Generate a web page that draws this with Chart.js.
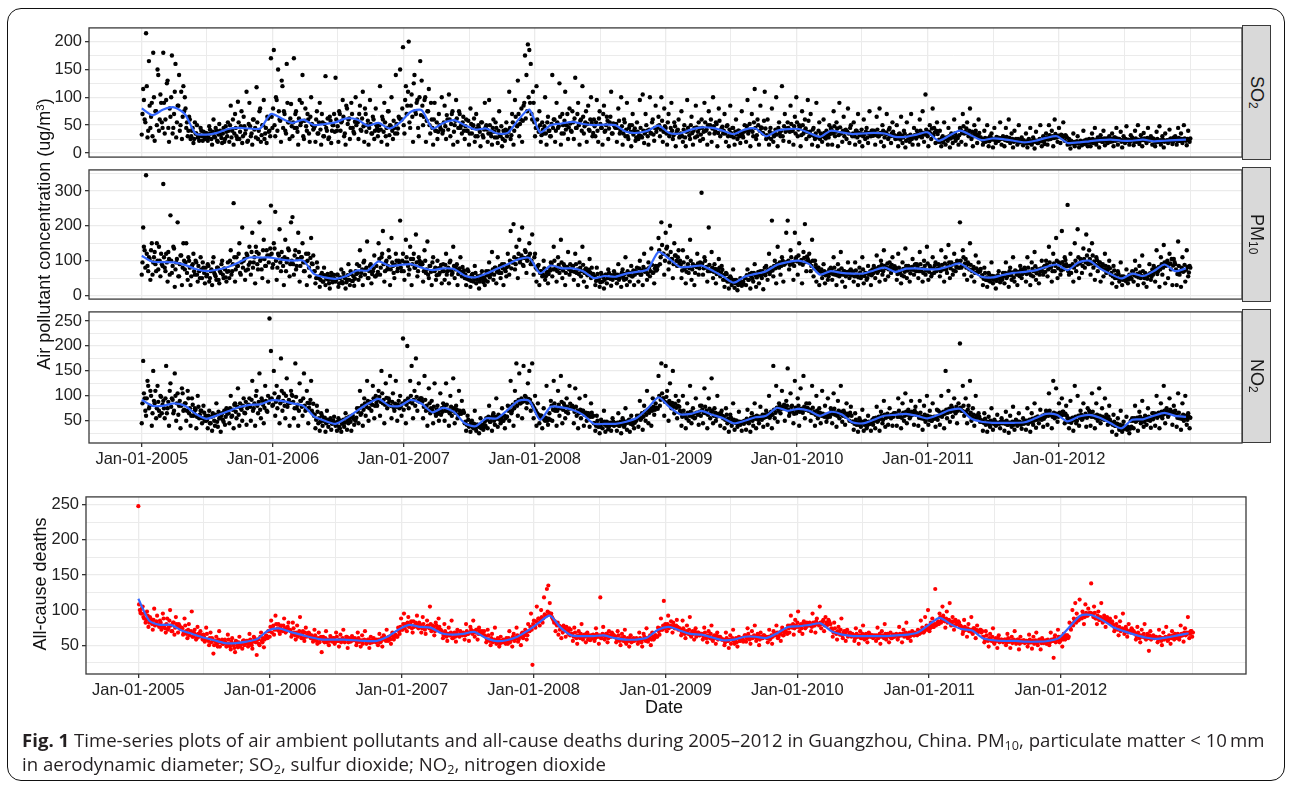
<!DOCTYPE html>
<html><head><meta charset="utf-8">
<script src="https://cdn.jsdelivr.net/npm/chart.js@4.4.0/dist/chart.umd.min.js"></script>
<style>
html,body{margin:0;padding:0;background:#fff;}
body{width:1289px;height:785px;position:relative;overflow:hidden;font-family:Arial,"Liberation Sans",sans-serif;}
.frame{position:absolute;left:7px;top:8px;width:1276px;height:771px;border:1.6px solid #111;border-radius:14px;}
canvas{position:absolute;left:0;}
.strip{position:absolute;left:1242px;width:29px;background:#d9d9d9;border:1.2px solid #3a3a3a;box-sizing:border-box;display:flex;align-items:center;justify-content:center;}
.strip span{writing-mode:vertical-rl;font-size:18px;color:#1a1a1a;line-height:1;}
.strip sub{font-size:12px;}
.ytitle{position:absolute;width:400px;height:22px;line-height:22px;text-align:center;font-size:18px;color:#111;transform:rotate(-90deg);}
.ytitle sup{font-size:11.5px;vertical-align:6px;}
.xtitle{position:absolute;font-size:18px;color:#111;}
.cap{position:absolute;left:22px;white-space:nowrap;font-family:"Open Sans","Noto Sans",sans-serif;color:#231f20;font-size:16px;line-height:23px;}
.cap sub{font-size:0.68em;vertical-align:-0.2em;line-height:0;}
</style></head>
<body>
<div class="frame"></div>
<canvas id="cSO2" width="1252" height="155" style="top:15px"></canvas>
<canvas id="cPM" width="1252" height="155" style="top:157px"></canvas>
<canvas id="cNO2" width="1252" height="180" style="top:299px"></canvas>
<canvas id="cDeath" width="1256" height="230" style="top:484px"></canvas>
<div class="strip" style="top:25px;height:135px"><span>SO<sub>2</sub></span></div>
<div class="strip" style="top:167px;height:135px"><span>PM<sub>10</sub></span></div>
<div class="strip" style="top:309px;height:134px"><span>NO<sub>2</sub></span></div>
<div class="ytitle" style="left:-160px;top:223px">Air pollutant concentration (ug/m<sup>3</sup>)</div>
<div class="ytitle" style="left:-160px;top:573px">All-cause deaths</div>
<div class="xtitle" style="top:697px;left:645px">Date</div>
<div class="cap" id="cap1" style="top:728px"><b>Fig. 1</b> Time-series plots of air ambient pollutants and all-cause deaths during 2005–2012 in Guangzhou, China. PM<sub>10</sub>, particulate matter &lt; 10&#8201;mm</div>
<div class="cap" id="cap2" style="top:752px">in aerodynamic diameter; SO<sub>2</sub>, sulfur dioxide; NO<sub>2</sub>, nitrogen dioxide</div>
<script>
// ---- Sampling: two interleaved sets of daily readings, every 4th day (set B offset by 2 days),
//      15 samples per 60-day block; smooth trend sampled every 30 days ----
const sampleStepDays = 4, blockDays = 60, perBlock = 15, setBOffsetDays = 2;
const trendStepDays = 30;

const so2Values = [
33,115,60,215,28,165,45,90,180,22,75,150,40,105,55,
180,35,95,130,20,65,175,45,110,28,85,140,50,25,120,
100,45,30,65,25,40,18,55,35,28,22,45,30,38,25,
30,22,48,35,15,60,28,40,20,52,33,18,45,25,38,
55,20,85,40,15,70,30,92,25,48,18,65,35,110,22,
90,30,15,60,45,118,25,75,20,50,95,35,18,62,40,
170,45,185,30,95,150,60,20,120,75,40,160,55,25,88,
30,170,70,45,15,95,55,140,25,80,40,60,20,100,50,
45,20,75,35,90,15,55,30,138,40,25,65,18,50,70,
135,40,20,70,55,95,30,15,80,60,25,90,45,35,100,
60,25,85,40,110,20,70,50,15,95,35,65,25,80,45,
40,120,20,60,90,30,15,75,50,100,25,45,140,35,65,
150,60,190,35,120,85,200,45,105,20,140,70,95,30,165,
130,50,95,20,75,115,35,60,15,90,40,25,70,45,100,
40,85,25,60,105,30,70,15,50,95,20,75,45,35,65,
25,60,40,15,80,35,50,20,70,30,45,12,55,28,90,
50,20,95,35,15,60,28,45,18,75,30,12,40,22,55,
40,110,25,70,15,95,50,130,30,60,20,85,175,140,195,
185,160,60,90,30,120,45,75,20,55,35,100,15,65,40,
30,140,60,20,90,45,125,15,70,35,110,50,25,80,40,
75,25,135,45,90,15,60,120,35,55,20,85,40,100,30,
60,30,95,20,75,45,15,85,40,65,25,55,110,35,50,
45,20,80,35,100,15,60,30,90,25,50,12,70,40,22,
55,25,95,30,105,18,70,40,15,100,35,60,22,85,45,
65,30,100,20,80,45,15,70,35,90,25,55,12,40,60,
30,75,20,50,12,95,40,25,65,15,45,85,30,55,22,
60,25,90,40,15,75,50,20,100,35,55,12,80,30,45,
35,70,20,50,12,85,30,45,15,60,25,40,18,75,28,
50,20,95,40,12,70,30,115,25,60,15,85,45,35,110,
25,60,15,45,80,20,35,100,12,55,30,120,22,70,40,
55,20,85,40,15,65,100,30,50,12,75,35,60,25,95,
30,70,15,45,25,90,12,55,35,20,60,28,40,15,50,
45,15,75,30,55,12,90,35,20,65,40,25,80,18,50,
30,55,15,40,70,20,35,12,60,25,45,18,75,30,40,
40,15,65,30,80,20,50,12,35,70,25,45,18,55,30,
25,50,12,35,65,18,40,10,55,28,20,70,15,45,30,
40,15,60,30,75,20,105,35,12,50,25,80,45,18,55,
20,40,12,30,55,15,25,45,10,35,18,60,22,28,15,
45,20,70,35,15,55,30,80,25,12,50,40,18,60,28,
25,15,40,20,50,12,30,35,10,45,18,28,22,55,15,
30,12,45,22,60,18,35,10,40,25,15,50,20,28,14,
20,35,10,25,45,15,28,8,38,18,22,50,12,30,16,
35,15,50,25,40,12,60,28,20,45,18,32,55,22,30,
15,25,8,20,35,12,18,30,10,22,14,40,16,24,12,
25,12,35,18,45,15,28,10,32,20,40,14,26,18,30,
20,35,12,28,45,15,25,38,10,30,18,48,22,15,32,
28,14,40,20,50,16,32,12,36,24,18,45,22,30,15,
25,12,38,20,48,15,30,10,35,22,18,42,26,16,28,
30,15,45,22,35,18,50,25,14,40,20
];
const so2ValuesB = [
70,95,55,120,40,85,65,30,100,75,50,140,60,90,45,
90,60,125,45,80,100,35,70,160,55,85,40,110,65,75,
80,55,40,60,30,45,25,35,50,28,32,40,22,30,36,
35,28,42,25,38,30,45,22,33,40,27,35,20,48,30,
40,50,28,60,35,45,25,55,38,75,30,48,42,20,52,
48,35,60,42,28,55,40,80,32,50,25,45,65,38,30,
65,80,50,100,40,75,58,130,45,70,35,90,55,62,48,
55,45,75,38,62,50,90,30,58,48,70,35,65,52,42,
48,60,35,55,42,70,30,52,45,62,28,58,40,50,38,
60,48,75,40,58,65,35,85,52,62,45,70,38,56,50,
55,70,42,62,48,80,38,58,45,52,35,60,40,50,30,
50,42,65,38,55,45,75,32,48,40,58,35,52,44,62,
60,80,50,95,70,110,55,85,65,125,75,90,45,100,68,
85,65,100,58,75,50,90,45,60,40,55,38,50,42,35,
55,48,68,42,60,52,75,38,58,62,45,70,50,55,40,
48,40,58,35,52,45,62,30,44,50,38,55,32,42,46,
42,35,50,30,45,38,55,28,40,33,48,25,36,42,30,
38,45,32,55,40,65,48,70,52,80,58,90,62,75,100,
90,70,110,55,45,60,38,50,32,42,48,35,55,40,30,
52,45,60,40,55,48,65,35,50,58,42,70,46,53,38,
55,62,45,70,50,58,40,65,48,75,52,42,60,54,36,
48,55,40,62,52,45,70,38,50,58,44,65,35,53,47,
52,45,58,40,48,35,55,42,30,45,38,50,33,44,28,
38,32,45,28,40,35,50,30,42,36,55,33,45,38,48,
50,42,58,38,48,35,55,30,45,40,32,48,36,42,28,
35,30,42,28,38,45,32,50,36,40,28,46,38,44,33,
45,38,55,42,50,35,60,44,48,40,52,36,58,42,47,
40,35,48,30,42,36,45,28,38,33,40,30,36,32,38,
40,48,35,52,42,38,55,45,32,50,40,46,36,58,44,
32,28,38,25,35,30,42,33,45,36,40,30,48,38,44,
45,38,52,40,48,35,55,42,46,32,50,40,44,38,58,
38,32,42,30,35,28,40,25,33,30,36,26,32,28,34,
42,35,48,38,44,32,46,36,40,30,42,38,35,45,33,
35,30,40,28,36,32,42,30,34,38,28,36,33,40,31,
38,32,42,30,36,34,40,28,37,33,42,30,35,38,32,
30,26,34,24,31,28,35,22,30,27,33,25,29,32,26,
34,30,40,28,36,33,42,30,38,35,44,32,37,40,34,
24,20,27,19,25,28,22,30,26,33,28,35,30,27,32,
42,36,48,38,44,35,40,32,38,30,35,33,30,36,28,
24,20,27,22,26,21,28,24,25,23,29,22,27,25,26,
26,23,29,22,27,24,25,20,23,22,25,19,24,21,23,
20,17,23,18,21,19,24,20,22,18,25,21,23,20,24,
28,24,32,26,30,27,34,28,31,29,33,27,30,32,28,
19,16,22,17,20,18,21,17,19,20,16,22,18,21,19,
22,19,25,20,23,21,24,22,25,20,26,22,24,21,23,
25,21,28,22,26,23,24,20,23,21,25,22,24,20,23,
23,20,26,21,24,22,25,23,26,22,27,24,25,23,26,
22,19,25,20,23,21,24,20,22,23,21,25,22,20,24,
24,21,27,22,25,23,26,22,25,23,26
];
const so2Trend = [
80,68,78,82,70,35,33,36,43,45,44,44,70,62,54,60,50,52,55,62,
60,49,54,44,55,74,77,44,54,59,50,42,44,35,36,60,78,37,50,53,
56,52,50,51,50,38,36,40,49,36,35,42,46,45,40,34,42,44,30,40,
43,43,36,29,40,37,34,35,36,35,29,29,33,37,22,31,40,32,23,26,
25,22,19,22,27,30,18,19,21,23,24,22,22,24,21,22,23,24
];

const pm10Values = [
60,195,130,345,85,110,45,150,95,125,70,100,140,55,90,
320,80,120,40,105,230,65,140,25,95,210,55,115,30,150,
75,150,45,100,30,85,120,60,95,40,70,110,50,80,35,
55,90,40,70,30,110,60,45,80,35,65,100,50,75,40,
95,50,130,70,265,40,110,85,150,60,195,100,45,120,75,
140,60,180,95,35,125,75,210,105,50,160,85,130,40,115,
258,80,150,240,45,120,190,70,105,30,160,95,135,55,210,
225,60,130,85,180,40,110,150,70,95,30,120,55,165,90,
70,35,95,50,25,60,40,80,30,55,45,20,65,38,50,
40,60,25,50,75,35,55,20,45,90,30,62,42,28,70,
90,45,130,65,30,100,75,155,50,85,35,70,115,55,60,
150,60,110,185,40,95,75,130,30,165,85,50,120,70,100,
215,70,120,45,160,95,60,140,30,105,80,175,55,110,90,
95,40,130,65,155,50,85,30,110,70,45,100,60,80,35,
90,45,120,70,35,100,60,140,50,85,30,75,110,55,65,
50,30,75,45,25,60,40,85,35,55,20,48,70,38,30,
70,40,95,60,125,45,80,35,110,65,50,90,30,75,55,
120,60,185,95,205,75,140,50,160,105,195,85,130,65,110,
150,90,175,60,120,40,85,30,70,55,100,45,65,35,80,
95,55,140,75,40,110,65,160,50,90,30,80,125,60,70,
85,45,120,65,30,95,55,140,40,75,25,70,105,50,60,
55,30,80,45,25,65,40,20,60,35,75,50,28,45,70,
60,35,90,50,25,75,45,110,30,65,40,85,55,30,70,
80,40,100,60,30,120,70,45,95,55,135,65,35,85,75,
165,90,210,120,60,180,140,75,200,105,50,150,115,85,130,
100,50,130,75,35,110,65,160,45,90,30,85,120,60,95,
295,60,110,80,40,195,70,125,50,90,35,75,105,55,85,
45,25,65,40,20,55,30,75,22,45,15,35,50,28,40,
50,30,75,45,20,65,40,90,25,60,35,70,50,18,80,
85,45,120,70,215,55,100,35,140,80,60,110,40,95,180,
215,75,130,90,45,180,110,60,150,95,35,125,205,70,105,
120,70,160,55,100,40,80,30,65,50,90,35,60,45,75,
80,45,110,60,30,90,55,125,40,70,25,65,95,50,75,
70,40,95,55,30,80,50,110,35,65,45,85,60,30,75,
85,50,115,70,40,100,60,130,45,80,55,95,65,110,75,
80,45,120,65,35,95,55,135,50,85,40,75,105,60,90,
90,50,125,70,40,100,60,140,45,85,55,110,65,95,75,
90,55,130,75,40,110,65,145,50,95,60,120,70,100,80,
210,80,130,60,105,45,90,150,55,75,40,115,65,95,70,
55,30,80,45,25,65,40,95,35,55,20,50,70,38,45,
65,35,95,55,25,80,45,110,40,70,30,60,85,50,75,
80,40,110,65,30,95,55,125,45,75,35,70,100,60,85,
100,55,140,80,40,120,70,165,50,95,60,185,75,110,90,
260,60,120,85,40,150,70,190,50,105,65,135,80,175,95,
130,60,150,80,45,110,70,95,40,85,55,120,65,75,100,
60,35,85,50,25,70,40,95,30,55,45,75,35,60,50,
70,40,100,55,30,85,50,115,35,65,25,60,90,45,75,
85,40,130,70,25,110,60,145,35,95,50,120,75,30,105,
90,30,155,60,25,110,70,40,130,55,85
];
const pm10ValuesB = [
95,140,80,120,70,105,130,60,110,90,150,75,100,120,85,
110,70,95,125,60,100,85,135,75,105,55,90,115,80,100,
95,65,110,80,55,90,70,100,60,85,50,75,95,65,80,
60,85,50,75,95,65,55,80,45,70,90,60,78,52,68,
70,100,60,90,110,75,85,120,65,95,80,105,72,115,88,
95,125,80,110,140,90,120,100,75,130,105,85,115,95,135,
120,90,135,100,80,115,95,125,85,110,70,105,130,90,100,
90,115,75,105,125,85,110,95,70,120,100,80,108,92,115,
70,50,80,55,45,65,40,58,48,62,35,55,45,60,42,
45,60,35,52,40,65,50,38,58,45,70,42,55,48,62,
65,85,55,75,95,60,80,50,70,90,62,78,55,85,68,
105,80,120,90,70,100,85,110,75,95,65,88,100,78,92,
80,100,70,95,110,85,75,105,90,120,80,95,70,100,88,
90,70,100,75,60,85,68,95,72,80,58,78,65,88,70,
70,88,60,80,95,72,65,85,75,90,62,78,68,82,72,
60,48,70,52,42,62,50,65,45,55,40,58,48,52,44,
58,70,52,66,75,60,80,68,72,85,65,78,90,70,82,
85,100,78,95,110,90,105,120,95,115,88,108,125,100,112,
120,100,90,110,80,75,88,65,70,60,78,55,68,62,72,
92,75,100,80,70,88,78,95,72,85,65,82,76,90,70,
85,68,90,75,62,80,70,88,65,78,58,74,66,80,62,
55,42,62,48,38,58,52,45,60,50,65,48,58,52,62,
50,60,45,58,66,52,62,48,70,58,65,55,72,60,68,
65,78,60,72,82,68,75,62,80,70,88,66,78,72,85,
130,110,145,120,100,135,115,95,125,105,90,115,100,110,95,
88,72,95,80,68,90,78,100,75,85,65,82,92,78,88,
92,78,100,82,70,88,75,80,68,76,62,72,80,66,74,
58,45,62,48,40,50,38,45,35,42,30,40,34,38,32,
50,58,45,62,55,48,65,58,52,68,60,56,70,62,58,
68,75,62,80,72,85,78,90,82,95,85,100,88,92,96,
100,88,110,95,85,105,98,115,92,102,88,108,96,112,100,
95,85,100,78,88,72,80,68,75,62,70,58,66,55,64,
75,62,80,68,58,72,64,78,60,70,55,68,62,72,58,
68,55,72,60,52,66,58,75,56,65,50,62,70,58,64,
70,78,65,82,74,88,70,85,78,92,75,82,88,76,84,
72,62,80,70,58,76,68,85,72,78,64,82,74,88,70,
82,70,90,76,65,85,72,92,68,80,62,78,86,70,76,
80,70,88,76,92,74,85,95,78,88,72,90,82,98,80,
100,85,110,92,80,95,75,88,70,82,65,78,72,68,76,
58,48,65,52,44,60,50,56,45,54,42,58,48,52,46,
55,65,50,62,70,58,66,52,72,60,68,56,74,62,66,
72,62,80,68,58,76,70,84,64,75,60,78,70,82,68,
88,75,95,82,70,92,85,100,78,90,72,96,86,102,84,
70,85,65,90,80,100,88,110,92,98,85,105,95,115,90,
105,92,115,98,88,102,85,95,80,90,75,85,72,82,78,
65,55,72,58,50,62,48,55,45,52,42,50,46,54,48,
68,58,75,62,52,66,56,70,50,60,48,58,64,54,60,
68,78,62,82,75,90,80,95,85,100,88,92,105,86,96,
75,62,85,70,80,68,88,74,82,66,80
];
const pm10Trend = [
114,97,96,95,88,76,70,74,82,95,109,109,109,103,100,100,62,52,48,56,
72,72,98,85,88,90,80,73,78,76,57,52,63,77,90,104,108,64,86,78,
78,70,50,56,54,63,68,75,125,105,82,83,86,72,55,37,54,62,70,88,
96,100,90,60,70,65,63,63,72,80,68,77,78,75,76,84,92,72,54,52,
59,65,68,72,82,89,73,95,100,78,62,49,63,56,70,89,70,78
];

const no2Values = [
45,170,95,60,130,75,110,40,150,85,55,120,70,100,65,
90,55,160,75,40,125,95,65,145,50,105,80,35,115,70,
85,50,110,65,40,95,60,75,35,100,55,70,45,80,50,
50,35,70,45,30,60,40,85,38,55,28,65,48,42,75,
70,45,100,60,35,85,55,115,40,75,50,95,65,42,80,
95,50,130,75,40,110,65,145,55,90,45,120,70,100,255,
190,80,150,60,120,95,45,175,70,105,55,135,85,40,110,
100,55,165,75,40,125,90,60,145,70,110,45,85,130,65,
60,35,80,45,30,65,40,55,28,70,38,50,32,45,58,
40,30,55,35,28,48,38,65,32,45,55,30,60,42,50,
75,45,110,65,40,95,60,130,50,85,70,120,55,100,80,
110,60,150,85,45,125,75,95,140,55,105,70,130,50,90,
100,60,215,85,45,200,75,130,160,55,110,175,70,125,95,
95,55,140,70,40,115,65,90,45,125,60,80,50,105,75,
85,50,125,70,40,100,60,135,45,80,55,110,65,90,70,
45,30,60,38,28,50,35,70,30,42,25,55,36,32,48,
55,35,80,48,30,65,42,95,38,60,45,75,50,35,58,
80,50,130,70,40,110,165,60,145,85,55,160,100,75,125,
150,70,165,55,100,40,85,45,60,35,75,50,120,42,65,
90,50,130,70,40,110,60,140,45,85,55,95,65,120,75,
80,45,115,60,35,95,55,70,40,100,50,65,38,85,58,
45,30,60,38,25,52,35,70,28,48,33,42,30,55,40,
45,30,65,40,25,55,38,75,32,50,28,60,42,35,52,
60,38,90,55,32,80,50,110,45,70,40,95,62,85,75,
140,80,165,95,60,160,110,50,125,75,150,65,100,55,90,
70,40,100,60,35,85,50,120,45,75,55,95,65,42,80,
80,45,115,65,35,95,55,135,45,75,50,100,60,40,70,
55,35,75,45,28,62,40,85,32,50,38,68,42,30,48,
50,32,72,45,28,65,40,85,35,58,45,78,52,38,62,
70,42,100,60,35,160,55,120,48,85,65,110,75,50,90,
155,60,105,80,45,130,65,95,40,115,70,140,55,85,75,
85,50,120,65,40,100,55,75,45,110,60,80,48,95,62,
75,45,105,62,38,90,55,120,48,70,42,85,60,50,78,
48,32,65,42,28,55,38,72,30,50,35,60,44,30,52,
55,35,78,50,30,68,45,90,38,62,42,75,55,40,65,
65,40,95,58,35,85,50,105,45,72,55,90,62,42,78,
65,40,90,55,32,80,48,100,42,70,50,85,58,38,72,
70,42,100,62,35,150,55,110,48,80,58,95,65,45,85,
205,70,120,60,95,45,80,130,50,75,40,100,58,65,48,
48,30,65,42,28,58,38,75,32,52,40,62,45,35,55,
48,30,68,42,26,60,38,78,32,52,40,65,45,34,55,
50,32,75,48,28,65,42,85,36,58,45,72,52,38,62,
70,42,105,62,35,130,55,115,48,85,60,95,68,45,80,
55,35,90,50,30,120,45,100,40,70,52,85,60,38,75,
70,40,105,58,35,85,50,115,45,75,55,95,62,42,80,
45,28,62,40,22,55,32,70,28,48,35,58,38,25,50,
55,35,80,50,30,68,45,90,38,60,42,75,52,36,65,
65,40,100,60,35,85,55,120,45,75,58,95,68,42,80,
70,38,105,55,32,85,50,100,42,65,35
];
const no2ValuesB = [
85,105,70,95,120,80,100,65,90,110,75,88,60,98,82,
75,95,65,88,110,78,92,70,100,85,62,90,80,105,72,
85,70,95,75,60,82,68,72,58,78,62,70,55,66,60,
52,60,45,58,65,50,62,48,68,55,60,52,70,58,64,
65,75,58,72,82,68,78,62,85,72,80,66,88,75,82,
78,92,70,85,100,80,88,72,95,82,76,90,68,86,94,
95,82,105,88,75,98,85,110,90,80,100,78,92,86,102,
88,75,98,82,70,90,78,95,80,72,86,76,92,70,84,
62,52,68,55,48,60,50,56,45,52,48,55,44,50,46,
42,48,38,50,44,52,46,55,50,58,48,60,54,52,56,
68,75,62,80,72,85,78,90,75,88,82,95,80,86,92,
98,88,105,92,82,96,85,90,80,88,76,84,78,82,75,
78,85,72,90,82,95,88,100,85,92,80,98,90,88,95,
88,78,92,80,72,85,75,70,78,66,72,64,70,62,68,
78,70,82,72,65,78,70,75,66,72,62,70,64,68,66,
48,42,52,40,46,38,44,36,42,38,40,35,42,37,40,
52,58,48,56,60,50,58,54,62,52,56,50,60,55,58,
70,78,65,82,75,88,80,92,85,95,88,90,98,86,94,
92,85,80,75,70,65,62,58,60,55,52,56,50,54,52,
80,72,85,76,70,82,75,88,72,80,68,78,74,84,76,
75,68,78,70,65,72,66,70,62,66,60,64,58,66,60,
45,40,50,42,38,46,44,48,40,44,38,46,42,48,44,
42,46,40,48,44,50,42,48,46,52,44,50,48,46,50,
55,60,52,65,58,68,62,72,66,75,70,78,72,76,74,
100,92,105,95,88,98,85,90,82,86,78,84,76,80,78,
65,58,70,62,55,66,60,68,58,64,56,66,62,68,60,
72,66,78,70,62,74,66,70,60,66,58,64,62,66,60,
58,52,62,54,48,56,50,52,46,50,44,48,45,48,44,
48,54,46,52,56,50,58,54,60,52,58,55,62,56,58,
58,64,56,68,62,72,66,76,70,80,74,78,82,75,80,
72,66,78,70,64,76,70,80,68,74,66,78,72,76,70,
72,66,76,68,62,70,64,66,60,64,58,62,56,62,58,
70,64,74,66,60,70,64,68,60,66,58,64,62,66,60,
48,44,52,46,42,50,45,48,42,46,40,48,44,46,42,
50,56,48,58,54,60,52,62,56,64,58,60,62,58,64,
64,58,70,62,56,66,60,68,62,66,58,68,64,70,62,
62,56,66,58,54,62,56,60,52,58,50,56,54,58,52,
60,66,58,68,64,72,66,74,68,76,70,72,78,70,74,
76,70,80,68,64,72,62,66,58,62,54,60,56,58,52,
50,46,54,44,48,42,50,46,44,48,42,46,44,48,45,
48,44,50,42,46,44,48,42,46,50,44,48,42,46,44,
46,50,44,52,48,54,50,56,52,58,54,56,60,54,58,
66,60,70,62,58,66,60,64,58,66,60,68,62,64,60,
48,54,46,56,52,58,50,60,56,62,54,58,64,56,60,
64,58,68,60,56,62,56,60,54,58,52,56,54,58,52,
46,42,48,40,44,38,42,36,40,34,38,32,36,34,38,
50,55,48,56,52,58,50,54,48,56,52,58,50,55,53,
58,64,56,66,60,68,62,70,64,68,62,72,66,68,64,
62,56,66,58,54,62,56,60,52,58,56
];
const no2Trend = [
92,80,80,85,80,64,54,61,69,77,82,83,91,90,85,80,59,50,44,55,
70,84,94,80,80,92,84,67,76,68,45,39,55,55,72,90,90,52,78,77,
72,62,44,44,44,48,56,75,97,78,63,64,70,62,55,45,50,57,60,76,
70,74,70,60,68,63,47,45,52,60,62,64,60,55,62,71,74,55,48,46,
46,46,47,55,64,62,49,58,62,56,45,35,52,53,60,66,60,58
];

const deathValues = [
248,100,95,105,88,82,98,76,90,85,72,102,80,92,78,
85,72,95,78,68,88,75,100,70,82,65,90,76,80,73,
75,65,88,70,60,80,68,98,62,72,58,76,66,70,64,
65,55,75,58,50,68,60,38,56,62,48,70,54,58,52,
58,48,65,52,44,60,50,40,55,47,62,51,45,57,53,
56,48,66,52,45,62,55,36,58,50,68,54,47,60,63,
70,62,85,75,65,92,72,80,66,78,70,88,68,75,82,
72,62,82,68,58,78,65,90,60,70,56,75,64,68,62,
64,55,72,60,52,68,58,40,62,54,70,57,50,63,59,
60,52,68,56,48,65,58,72,54,62,46,60,55,63,57,
60,50,68,55,48,64,57,70,52,58,46,62,54,60,56,
58,50,66,55,48,64,60,72,56,62,52,68,58,65,62,
75,66,88,72,95,80,70,90,78,84,68,76,82,92,74,
80,68,90,74,66,85,76,105,70,78,64,82,74,88,72,
70,60,80,66,56,75,64,85,60,68,55,72,63,70,66,
68,58,80,66,56,76,68,85,62,72,58,75,66,70,64,
64,54,72,58,50,66,56,75,52,60,48,62,55,58,54,
60,52,70,58,48,66,60,75,55,62,50,68,64,72,58,
80,70,95,22,85,75,105,88,78,100,82,118,92,130,135,
110,95,88,82,70,78,65,72,60,68,75,62,70,66,64,
66,56,75,62,52,70,60,80,58,65,54,68,62,57,64,
65,56,74,62,52,118,60,76,58,66,54,70,62,68,64,
62,54,70,58,50,66,56,72,52,60,48,64,55,60,57,
60,52,68,58,48,66,60,74,55,62,50,68,58,64,62,
75,65,88,72,113,80,70,92,76,84,68,78,74,86,72,
74,64,85,70,60,78,66,90,62,70,58,74,66,68,64,
66,58,75,62,54,70,60,78,56,64,52,68,60,62,58,
58,50,68,56,46,64,58,72,52,60,48,62,56,60,55,
64,55,74,60,52,70,62,78,56,66,50,68,60,64,62,
62,54,72,60,52,70,66,78,60,68,56,75,64,70,68,
78,68,92,75,65,86,76,98,70,80,66,84,74,82,78,
82,70,95,78,68,88,80,105,74,84,70,90,78,86,80,
74,62,82,68,58,76,65,88,60,70,56,72,64,68,62,
65,56,74,62,52,70,60,78,58,66,54,68,62,64,60,
64,56,75,62,52,70,62,80,58,66,54,68,60,65,62,
66,58,76,64,54,72,65,82,60,68,56,70,64,68,66,
72,66,85,75,68,90,78,100,70,82,88,76,130,80,84,
95,82,105,88,75,98,85,110,78,90,72,86,80,84,76,
76,66,86,72,62,80,70,90,66,74,60,78,70,72,68,
62,54,70,58,48,66,56,74,52,60,46,64,56,58,54,
58,50,66,55,46,62,56,70,52,58,44,62,54,57,53,
56,48,65,54,45,62,55,68,50,58,44,60,53,56,52,
58,50,68,56,32,64,58,72,54,62,48,66,58,64,60,
82,72,100,88,110,95,85,115,90,98,80,108,92,102,96,
138,95,105,88,80,98,86,110,82,92,76,90,84,88,80,
80,70,90,75,64,84,72,95,66,76,62,80,70,74,68,
68,58,76,64,54,72,62,80,58,66,42,70,62,64,60,
62,54,72,60,50,68,60,76,56,64,52,70,60,66,62,
66,58,78,64,55,74,68,90,60,70,62
];
const deathValuesB = [
108,96,102,90,95,86,92,82,88,80,86,78,84,80,76,
82,76,88,74,80,72,85,78,70,82,75,80,68,78,74,
74,68,78,66,72,64,70,62,68,65,60,66,62,64,58,
62,58,66,56,60,54,58,50,56,52,58,48,55,52,54,
54,50,58,48,55,52,46,56,50,54,48,52,56,50,53,
56,52,58,50,55,60,54,58,52,62,56,60,58,64,60,
70,76,68,78,72,80,74,70,76,72,78,74,70,76,72,
70,66,74,64,68,62,70,64,66,60,68,62,64,66,60,
62,58,64,56,60,54,62,58,56,60,54,58,56,60,55,
60,55,62,56,58,54,60,56,58,62,54,58,56,60,57,
58,54,60,55,57,52,58,56,54,58,53,57,55,58,54,
56,58,54,60,58,62,56,60,62,58,64,60,62,64,62,
70,76,72,80,74,78,82,76,80,74,84,78,80,76,82,
78,74,80,72,76,78,74,80,72,76,70,78,74,76,72,
68,64,70,62,66,64,68,60,66,62,68,64,62,66,64,
66,64,70,66,68,72,66,70,68,72,66,70,68,66,70,
62,58,64,56,60,54,58,56,54,58,52,56,54,56,52,
56,60,54,58,62,56,60,64,58,62,66,60,64,68,64,
70,76,72,80,78,84,82,88,86,90,88,94,92,98,96,
94,90,86,84,80,82,78,76,74,78,72,76,70,74,72,
66,62,68,60,64,62,66,60,64,62,66,58,64,62,60,
64,60,66,62,64,60,66,64,62,66,60,64,62,66,64,
62,58,64,56,60,58,62,54,58,56,60,54,58,56,58,
58,56,60,54,58,62,56,60,58,64,58,62,60,64,62,
70,74,72,78,74,76,80,74,78,76,82,74,78,76,74,
72,68,74,66,70,68,72,64,68,66,70,62,68,64,66,
66,62,68,60,64,62,66,58,62,60,64,58,62,60,58,
58,54,60,56,58,52,60,56,58,54,60,56,58,60,56,
64,60,66,58,62,60,64,62,60,64,58,62,60,64,62,
60,62,58,64,62,66,64,68,62,66,70,64,68,70,66,
74,78,76,80,74,78,82,76,78,74,80,78,76,80,78,
80,76,82,78,84,80,78,82,80,86,78,82,80,84,80,
72,68,74,66,70,68,72,64,68,66,70,62,66,64,66,
64,60,66,62,64,60,66,62,64,60,62,66,62,64,62,
62,64,60,66,62,64,60,66,62,64,62,60,64,62,64,
64,62,66,64,66,62,68,64,66,62,66,68,64,66,64,
66,70,68,72,70,74,72,76,74,78,76,80,78,82,80,
90,86,92,84,88,82,86,84,80,84,78,82,80,82,78,
74,70,76,72,74,70,72,68,74,70,72,68,70,72,70,
62,58,64,56,60,58,62,54,58,56,60,54,58,56,56,
58,54,60,55,57,53,58,56,54,58,52,56,55,57,54,
56,53,58,54,56,52,57,54,55,58,53,56,54,57,55,
56,54,58,56,60,54,58,62,56,60,58,62,60,64,62,
74,80,78,84,82,88,86,90,88,94,90,96,92,94,96,
94,90,96,88,92,86,90,88,84,88,86,84,86,82,84,
78,74,80,72,76,70,74,72,70,72,68,70,68,72,70,
66,62,68,60,64,62,66,60,62,60,64,58,62,60,62,
60,58,62,56,60,58,62,60,58,62,60,64,58,62,60,
64,62,66,64,68,64,66,68,66,70,68
];
const deathTrend = [
116,85,79,79,71,66,61,57,53,53,55,59,71,74,69,65,61,58,58,58,
57,56,56,62,72,79,76,75,67,65,66,69,61,56,57,62,71,82,92,75,
64,63,63,64,60,58,58,61,72,76,71,66,65,61,57,58,62,62,60,67,
76,77,79,81,70,65,63,63,63,63,64,65,68,79,89,80,73,71,60,57,
56,56,55,55,56,60,76,92,93,86,76,70,65,61,59,61,64,67
];

// ---- Axis ticks ----
const yearTickDays = [0,365,730,1095,1461,1826,2191,2556];
const yearTickLabels = ['Jan-01-2005','Jan-01-2006','Jan-01-2007','Jan-01-2008','Jan-01-2009','Jan-01-2010','Jan-01-2011','Jan-01-2012'];
const minorTickDays = [181,546,912,1277,1642,2007,2373,2738,2922];
const so2Major = [0,50,100,150,200], so2Minor = [25,75,125,175];
const pm10Major = [0,100,200,300], pm10Minor = [50,150,250,350];
const no2Major = [50,100,150,200,250], no2Minor = [25,75,125,175,225];
const deathMajor = [50,100,150,200,250], deathMinor = [25,75,125,175,225];

// ---- Build ----
const TXT = '#222';
const FONT = {family:'Arial, "Liberation Sans", sans-serif', size:16.5};
const framePlugin = {id:'panelFrame', afterDraw(chart){
  const {ctx, chartArea:a} = chart; ctx.save();
  ctx.strokeStyle = '#3a3a3a'; ctx.lineWidth = 1.3;
  ctx.strokeRect(a.left, a.top, a.right-a.left, a.bottom-a.top); ctx.restore();
}};

function toPoints(values, offset){
  return values.map((v,i)=>({x: blockDays*Math.floor(i/perBlock) + sampleStepDays*(i%perBlock) + offset, y: v}));
}
function toTrend(values){ return values.map((v,i)=>({x: i*trendStepDays, y: v})); }

function panel(id, o){
  const xTicks = yearTickDays.concat(minorTickDays).sort((a,b)=>a-b);
  const yTicks = o.major.concat(o.minor).sort((a,b)=>a-b);
  const pts = toPoints(o.values, 0).concat(toPoints(o.valuesB, setBOffsetDays));
  new Chart(document.getElementById(id), {
    type:'scatter',
    data:{datasets:[
      {type:'line', data: toTrend(o.trend), borderColor:'#3366FF', borderWidth:2.2, pointRadius:0, tension:0.25, fill:false, order:0},
      {type:'scatter', data: pts, pointRadius: o.r, pointBackgroundColor: o.color, pointBorderWidth:0, pointHoverRadius:0, order:1}
    ]},
    options:{
      responsive:false, animation:false, devicePixelRatio:1, events:[],
      layout:{padding:o.pad},
      plugins:{legend:{display:false}, tooltip:{enabled:false}},
      scales:{
        x:{type:'linear', min:o.xMin, max:o.xMax,
          afterBuildTicks(s){ s.ticks = xTicks.map(v=>({value:v})); },
          afterFit(s){ s.height = o.xh; },
          border:{display:false},
          grid:{color:'#ebebeb', lineWidth:c=>yearTickDays.includes(c.tick && c.tick.value)?1.3:1,
                drawTicks:o.showX, tickLength:4,
                tickColor:c=>yearTickDays.includes(c.tick && c.tick.value)?'#333':'rgba(0,0,0,0)'},
          ticks:{display:o.showX, autoSkip:false, maxRotation:0, minRotation:0, padding:3, color:TXT, font:FONT,
            callback:v=>{const k=yearTickDays.indexOf(v); return k>=0?yearTickLabels[k]:'';}}
        },
        y:{type:'linear', min:o.yMin, max:o.yMax,
          afterBuildTicks(s){ s.ticks = yTicks.map(v=>({value:v})); },
          afterFit(s){ s.width = o.yw; },
          border:{display:false},
          grid:{color:'#ebebeb', lineWidth:c=>o.major.includes(c.tick && c.tick.value)?1.3:1,
                drawTicks:true, tickLength:4,
                tickColor:c=>o.major.includes(c.tick && c.tick.value)?'#333':'rgba(0,0,0,0)'},
          ticks:{autoSkip:false, padding:3, color:TXT, font:FONT,
            callback:v=>o.major.includes(v)?String(v):''}
        }
      }
    },
    plugins:[framePlugin]
  });
}

const topX = {xMin:-147, xMax:3066};
panel('cSO2', Object.assign({values:so2Values, valuesB:so2ValuesB, trend:so2Trend, major:so2Major, minor:so2Minor, yMin:-7.4, yMax:224.6,
  color:'#000', r:2.2, yw:89, xh:0, showX:false, pad:{top:10,bottom:10,left:0,right:10}}, topX));
panel('cPM', Object.assign({values:pm10Values, valuesB:pm10ValuesB, trend:pm10Trend, major:pm10Major, minor:pm10Minor, yMin:-10.2, yMax:360.4,
  color:'#000', r:2.2, yw:89, xh:0, showX:false, pad:{top:10,bottom:10,left:0,right:10}}, topX));
panel('cNO2', Object.assign({values:no2Values, valuesB:no2ValuesB, trend:no2Trend, major:no2Major, minor:no2Minor, yMin:5.5, yMax:268.2,
  color:'#000', r:2.2, yw:89, xh:30, showX:true, pad:{top:10,bottom:6,left:0,right:10}}, topX));
panel('cDeath', {values:deathValues, valuesB:deathValuesB, trend:deathTrend, major:deathMajor, minor:deathMinor, yMin:8.95, yMax:261.2,
  color:'#ff0000', r:2.1, yw:86, xh:30, showX:true, pad:{top:10,bottom:10,left:0,right:10}, xMin:-145, xMax:3069});

// caption: fit first line to the width it occupies in the figure
(function(){
  const c1 = document.getElementById('cap1'), c2 = document.getElementById('cap2');
  const w = c1.getBoundingClientRect().width;
  const size = 16 * 1243 / w;
  c1.style.fontSize = size + 'px'; c2.style.fontSize = size + 'px';
})();
</script>
</body></html>
